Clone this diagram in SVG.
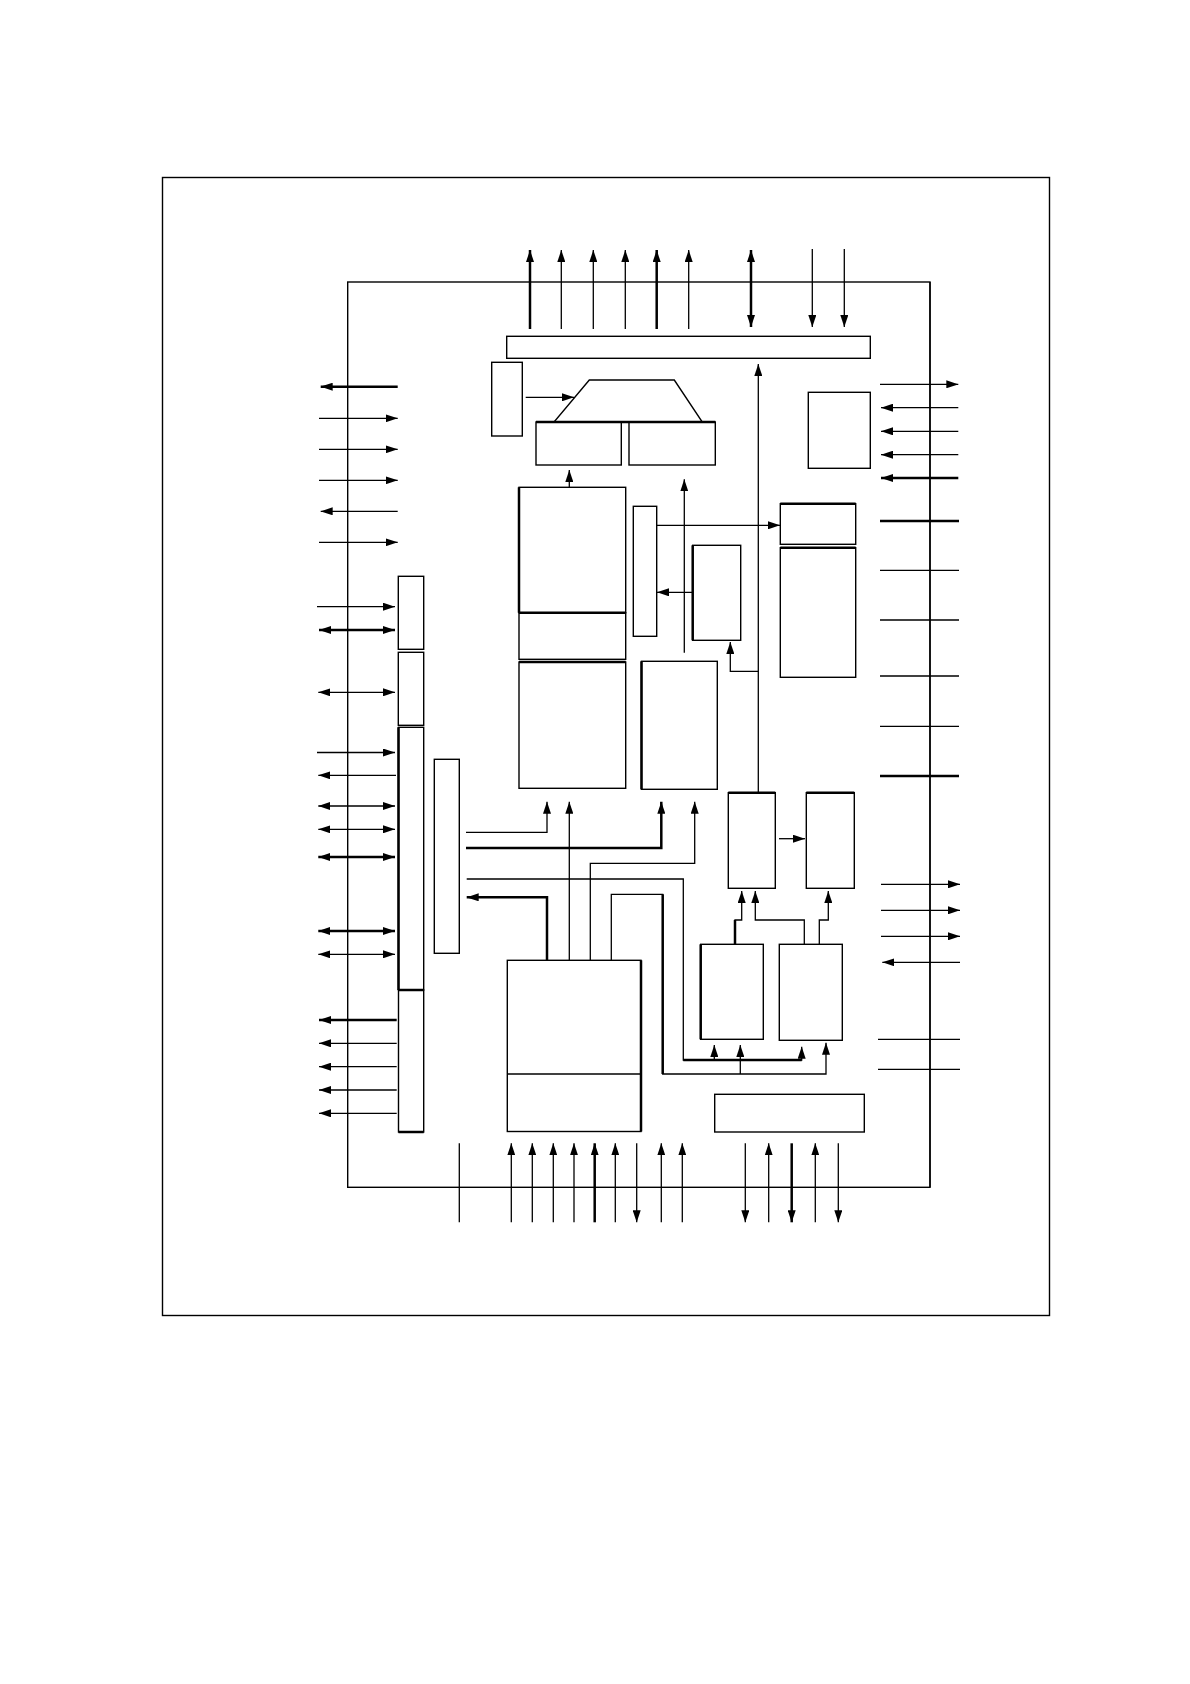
<svg xmlns="http://www.w3.org/2000/svg" width="1190" height="1684" viewBox="0 0 1190 1684">
<style>
.b{fill:none;stroke:#000;stroke-width:1.4}
.l{fill:none;stroke:#000;stroke-width:1.3}
.t{fill:none;stroke:#000;stroke-width:2.5}
.a{marker-end:url(#ah)}
.d{marker-start:url(#ah);marker-end:url(#ah)}
</style>
<defs>
<marker id="ah" viewBox="0 0 12 8" refX="12" refY="4" markerWidth="12" markerHeight="8" markerUnits="userSpaceOnUse" orient="auto-start-reverse">
<path d="M0,0 L12,4 L0,8 z" fill="#000"/>
</marker>
</defs>
<rect width="1190" height="1684" fill="#fff"/>
<g id="frame"><rect class="b" x="162.5" y="177.5" width="887" height="1138" stroke-width="1.6"/></g>
<g id="chip"><rect class="b" x="347.7" y="282" width="582.3" height="905.3"/><line class="b" x1="930" y1="282" x2="930" y2="1187.3" stroke-width="2"/></g>
<g id="nodes">
<g id="bus-top"><rect class="b" x="506.7" y="336.3" width="363.6" height="22"/></g>
<g id="reg-a"><rect class="b" x="491.7" y="362.3" width="30.6" height="73.7"/></g>
<g id="alu"><polygon class="b" points="589.3,380 674.3,380 702.3,422 554,422"/><line class="t" x1="536" y1="422" x2="715.3" y2="422" stroke-width="3"/></g>
<g id="alu-in-l"><rect class="b" x="536" y="422" width="85.3" height="43"/></g>
<g id="alu-in-r"><rect class="b" x="629" y="422" width="86.3" height="43"/></g>
<g id="mem-a"><rect class="b" x="519" y="487.3" width="106.7" height="125.4"/><line class="t" x1="519" y1="612.7" x2="625.7" y2="612.7"/><line class="t" x1="519" y1="487.3" x2="519" y2="612.7"/></g>
<g id="mem-b"><rect class="b" x="519" y="612.7" width="106.7" height="46.6"/></g>
<g id="mem-c"><rect class="b" x="519" y="662" width="106.7" height="126.3"/><line class="t" x1="519" y1="662" x2="625.7" y2="662"/></g>
<g id="mem-d"><rect class="b" x="641.5" y="661.3" width="75.8" height="128"/><line class="t" x1="641.5" y1="661.3" x2="641.5" y2="789.3"/></g>
<g id="narrow"><rect class="b" x="633.3" y="506.3" width="23.4" height="130"/></g>
<g id="small"><rect class="b" x="692.7" y="545.3" width="48" height="95"/><line class="t" x1="692.7" y1="545.3" x2="692.7" y2="640.3"/></g>
<g id="r-top"><rect class="b" x="808.3" y="392.3" width="62" height="76"/></g>
<g id="r-mid1"><rect class="b" x="780.3" y="503.7" width="75.4" height="40.6"/><line class="t" x1="780.3" y1="503.7" x2="855.7" y2="503.7"/></g>
<g id="r-mid2"><rect class="b" x="780.3" y="547.7" width="75.4" height="129.6"/><line class="t" x1="780.3" y1="547.7" x2="855.7" y2="547.7"/></g>
<g id="l-1"><rect class="b" x="398.3" y="576.3" width="25.4" height="73"/></g>
<g id="l-2"><rect class="b" x="398.3" y="652.3" width="25.4" height="73"/></g>
<g id="l-3"><rect class="b" x="398.5" y="727.3" width="25.2" height="262.7"/><line class="t" x1="398.5" y1="727.3" x2="398.5" y2="990"/></g>
<g id="l-4"><rect class="b" x="398.5" y="990" width="25.2" height="142"/><line class="t" x1="398.5" y1="990" x2="423.7" y2="990"/><line class="t" x1="398.5" y1="1132" x2="423.7" y2="1132"/></g>
<g id="tall"><rect class="b" x="434.3" y="759.3" width="25" height="194"/></g>
<g id="ctrl"><rect class="b" x="507.3" y="960.3" width="133.7" height="171.2"/><line class="l" x1="507.3" y1="1074" x2="641" y2="1074"/><line class="t" x1="641" y1="960.3" x2="641" y2="1131.5"/></g>
<g id="e"><rect class="b" x="728.3" y="792.7" width="47" height="95.6"/><line class="t" x1="728.3" y1="792.7" x2="775.3" y2="792.7"/></g>
<g id="f"><rect class="b" x="806.3" y="792.7" width="48" height="95.6"/><line class="t" x1="806.3" y1="792.7" x2="854.3" y2="792.7"/></g>
<g id="g"><rect class="b" x="700.7" y="944.3" width="62.6" height="95"/><line class="t" x1="700.7" y1="944.3" x2="700.7" y2="1039.3"/></g>
<g id="h"><rect class="b" x="779.3" y="944.3" width="63" height="96"/></g>
<g id="i"><rect class="b" x="714.7" y="1094.3" width="149.6" height="37.7"/></g>
</g>
<g id="connectors">
<line class="l a" x1="525.7" y1="397.3" x2="574" y2="397.3"/>
<line class="l a" x1="569.3" y1="487" x2="569.3" y2="470"/>
<line class="l a" x1="656.7" y1="525.3" x2="780" y2="525.3"/>
<line class="l a" x1="684.3" y1="652.7" x2="684.3" y2="479.3"/>
<line class="l a" x1="692.7" y1="592.3" x2="657" y2="592.3"/>
<line class="l a" x1="758.3" y1="792.7" x2="758.3" y2="364"/>
<path class="l a" d="M758.3,671.3 H730.3 V642"/>
<path class="l a" d="M466,832.3 H547 V801.7"/>
<line class="l a" x1="569.3" y1="960" x2="569.3" y2="801.7"/>
<path class="t a" d="M466,848 H661.3 V801.7"/>
<path class="l a" d="M590.3,960 V863.3 H694.7 V801.7"/>
<path class="l a" d="M466.7,879 H683.3 V1060 H801.7 V1046.7"/>
<line class="t" x1="683.3" y1="1060" x2="801.7" y2="1060"/>
<path class="t a" d="M547,960 V897.3 H466.7"/>
<path class="l a" d="M611.3,960 V894.3 H662.7 V1074 H826 V1042.7"/>
<line class="t" x1="662.7" y1="894.3" x2="662.7" y2="1074"/>
<line class="l a" x1="714.3" y1="1060" x2="714.3" y2="1045"/>
<line class="l a" x1="740.3" y1="1074" x2="740.3" y2="1045"/>
<line class="l a" x1="779" y1="838.7" x2="805" y2="838.7"/>
<path class="l a" d="M735,944 V920 H741.7 V891"/>
<line class="t" x1="735" y1="944" x2="735" y2="920"/>
<path class="l a" d="M804.3,944 V920 H755.3 V891"/>
<path class="l a" d="M819.3,944 V920 H828.3 V891"/>
</g>
<g id="pins">
<line class="t a" x1="530" y1="329" x2="530" y2="250"/>
<line class="l a" x1="561.3" y1="329" x2="561.3" y2="250"/>
<line class="l a" x1="593.3" y1="329" x2="593.3" y2="250"/>
<line class="l a" x1="625.3" y1="329" x2="625.3" y2="250"/>
<line class="t a" x1="656.7" y1="329" x2="656.7" y2="250"/>
<line class="l a" x1="688.7" y1="329" x2="688.7" y2="250"/>
<line class="t d" x1="751" y1="250" x2="751" y2="327"/>
<line class="l a" x1="812.3" y1="249" x2="812.3" y2="327"/>
<line class="l a" x1="844.3" y1="249" x2="844.3" y2="327"/>
<line class="t a" x1="397.7" y1="386.7" x2="320.7" y2="386.7"/>
<line class="l a" x1="319" y1="418.3" x2="397.7" y2="418.3"/>
<line class="l a" x1="319" y1="449.3" x2="397.7" y2="449.3"/>
<line class="l a" x1="319" y1="480.3" x2="397.7" y2="480.3"/>
<line class="l a" x1="397.7" y1="511.3" x2="320.7" y2="511.3"/>
<line class="l a" x1="319" y1="542.3" x2="397.7" y2="542.3"/>
<line class="l a" x1="317" y1="606.7" x2="395" y2="606.7"/>
<line class="t d" x1="319" y1="630" x2="395" y2="630"/>
<line class="l d" x1="318.3" y1="692.3" x2="395" y2="692.3"/>
<line class="l a" x1="317" y1="752.5" x2="395" y2="752.5"/>
<line class="l a" x1="396" y1="775.3" x2="318.3" y2="775.3"/>
<line class="l d" x1="318.3" y1="806" x2="395" y2="806"/>
<line class="l d" x1="318.3" y1="829.3" x2="395" y2="829.3"/>
<line class="t d" x1="318.3" y1="857" x2="395" y2="857"/>
<line class="t d" x1="318.3" y1="931" x2="395" y2="931"/>
<line class="l d" x1="318.3" y1="954.3" x2="395" y2="954.3"/>
<line class="t a" x1="396.7" y1="1020" x2="319" y2="1020"/>
<line class="l a" x1="396.7" y1="1043.3" x2="319" y2="1043.3"/>
<line class="l a" x1="396.7" y1="1066.7" x2="319" y2="1066.7"/>
<line class="l a" x1="396.7" y1="1090" x2="319" y2="1090"/>
<line class="l a" x1="396.7" y1="1113.3" x2="319" y2="1113.3"/>
<line class="l a" x1="880" y1="384.3" x2="958.3" y2="384.3"/>
<line class="l a" x1="958.3" y1="407.7" x2="881" y2="407.7"/>
<line class="l a" x1="958.3" y1="431.3" x2="881" y2="431.3"/>
<line class="l a" x1="958.3" y1="454.7" x2="881" y2="454.7"/>
<line class="t a" x1="958.3" y1="478" x2="881" y2="478"/>
<line class="t" x1="880" y1="521" x2="959" y2="521"/>
<line class="l" x1="880" y1="570.3" x2="959" y2="570.3"/>
<line class="l" x1="880" y1="620" x2="959" y2="620"/>
<line class="l" x1="880" y1="676" x2="959" y2="676"/>
<line class="l" x1="880" y1="726.3" x2="959" y2="726.3"/>
<line class="t" x1="880" y1="776" x2="959" y2="776"/>
<line class="l a" x1="881" y1="884.3" x2="960" y2="884.3"/>
<line class="l a" x1="881" y1="910.3" x2="960" y2="910.3"/>
<line class="l a" x1="881" y1="936.3" x2="960" y2="936.3"/>
<line class="l a" x1="960" y1="962.3" x2="882.3" y2="962.3"/>
<line class="l" x1="878" y1="1039.3" x2="960" y2="1039.3"/>
<line class="l" x1="878" y1="1069.3" x2="960" y2="1069.3"/>
<line class="l" x1="459.3" y1="1143.3" x2="459.3" y2="1222.3"/>
<line class="l a" x1="511.3" y1="1222.3" x2="511.3" y2="1143.3"/>
<line class="l a" x1="532.3" y1="1222.3" x2="532.3" y2="1143.3"/>
<line class="l a" x1="553.3" y1="1222.3" x2="553.3" y2="1143.3"/>
<line class="l a" x1="574" y1="1222.3" x2="574" y2="1143.3"/>
<line class="t a" x1="594.7" y1="1222.3" x2="594.7" y2="1143.3"/>
<line class="l a" x1="615.3" y1="1222.3" x2="615.3" y2="1143.3"/>
<line class="l a" x1="636.7" y1="1143.3" x2="636.7" y2="1222.3"/>
<line class="l a" x1="661.3" y1="1222.3" x2="661.3" y2="1143.3"/>
<line class="l a" x1="682.3" y1="1222.3" x2="682.3" y2="1143.3"/>
<line class="l a" x1="745.3" y1="1143.3" x2="745.3" y2="1222.3"/>
<line class="l a" x1="768.7" y1="1222.3" x2="768.7" y2="1143.3"/>
<line class="t a" x1="791.7" y1="1143.3" x2="791.7" y2="1222.3"/>
<line class="l a" x1="815.3" y1="1222.3" x2="815.3" y2="1143.3"/>
<line class="l a" x1="838.3" y1="1143.3" x2="838.3" y2="1222.3"/>
</g>
</svg>
